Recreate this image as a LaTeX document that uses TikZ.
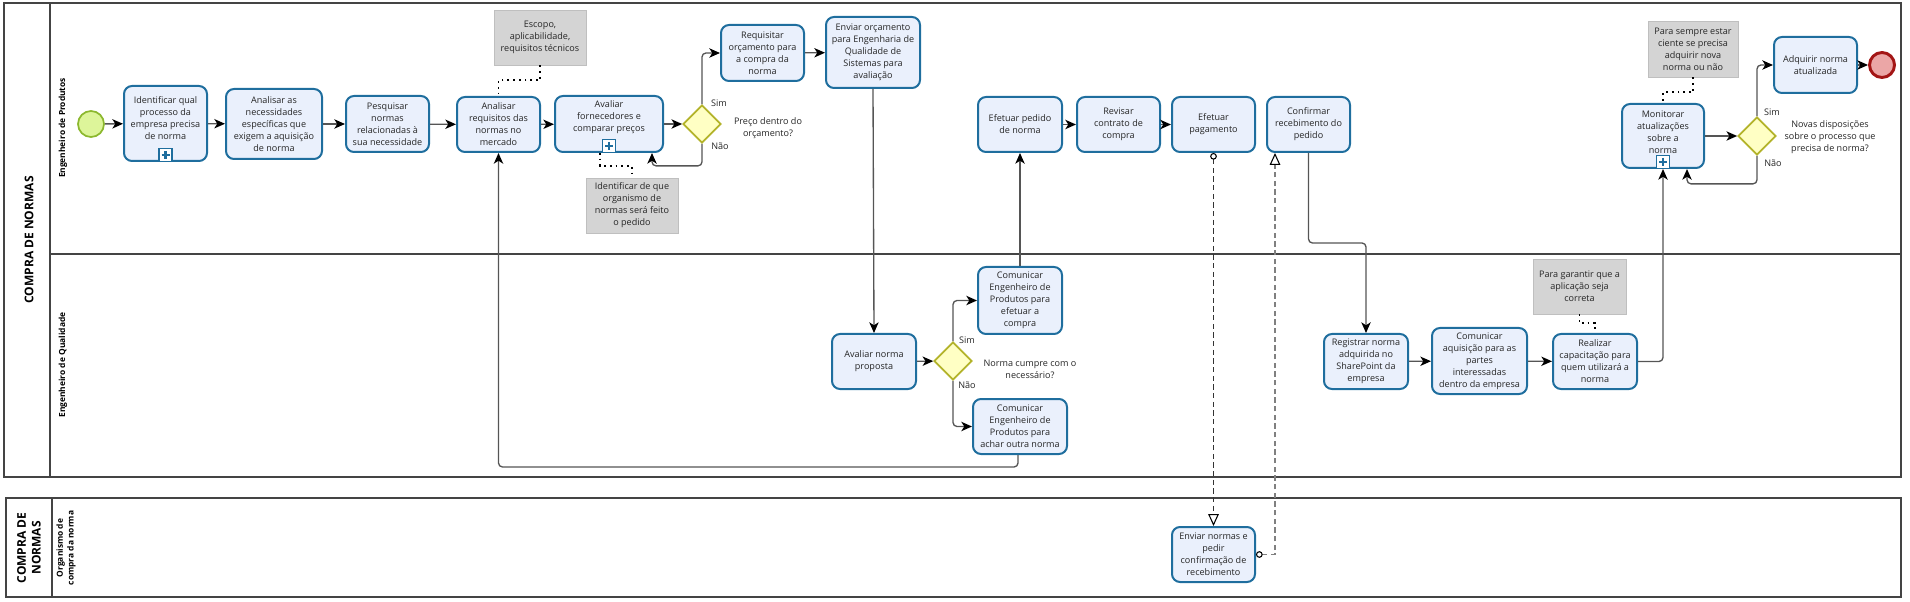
\documentclass[tikz,border=0pt]{standalone}
\usepackage{fontspec}
\setmainfont{Open Sans}
\usetikzlibrary{arrows.meta,shapes.geometric,calc}
\definecolor{tborder}{HTML}{1F6E9E}
\definecolor{tfill}{HTML}{EAF0FC}
\definecolor{gborder}{HTML}{B3B32A}
\definecolor{gfill}{HTML}{FFFFC4}
\definecolor{sborder}{HTML}{8CB82E}
\definecolor{sfill}{HTML}{DDF59A}
\definecolor{eborder}{HTML}{A31515}
\definecolor{efill}{HTML}{EBA6A6}
\definecolor{nfill}{HTML}{D4D4D4}
\definecolor{flowc}{HTML}{555555}
\definecolor{poolc}{HTML}{444444}
\newcommand\mysubmark[1]{%
  \node[submk] (#1m) at ($(#1.south)+(0,-7)$) {};
  \draw[tborder,line width=1.6pt] ($(#1m)+(-4,0)$) -- ($(#1m)+(4,0)$) ($(#1m)+(0,-4)$) -- ($(#1m)+(0,4)$);}
\begin{document}
\begin{tikzpicture}[x=0.75pt,y=-0.75pt,
  txt/.style={align=center,font=\fontsize{6.8}{9}\selectfont,text=black!85,inner sep=0pt},
  task/.style 2 args={draw=tborder,fill=tfill,line width=1.5pt,rounded corners=6pt,
     minimum width=#1*0.75pt,minimum height=#2*0.75pt,inner sep=1pt,align=center,
     font=\fontsize{6.8}{9}\selectfont,text=black!85},
  note/.style 2 args={fill=nfill,draw=black!25,line width=0.5pt,
     minimum width=#1*0.75pt,minimum height=#2*0.75pt,inner sep=1pt,align=center,
     font=\fontsize{6.8}{9}\selectfont,text=black!85},
  gate/.style={diamond,draw=gborder,fill=gfill,line width=1.3pt,minimum size=38*0.75pt,inner sep=0pt},
  startev/.style={circle,draw=sborder,fill=sfill,line width=1.3pt,minimum size=26*0.75pt,inner sep=0pt},
  endev/.style={circle,draw=eborder,fill=efill,line width=2.2pt,minimum size=25*0.75pt,inner sep=0pt},
  submk/.style={draw=tborder,fill=white,line width=1.3pt,minimum size=13*0.75pt,inner sep=0pt},
  flow/.style={draw=flowc,line width=1pt,rounded corners=3pt,-{Stealth[length=8pt,width=7pt,inset=2.2pt,color=black]}},
  msg/.style={draw=black!80,line width=0.8pt,dash pattern=on 4pt off 2.5pt,
     {Circle[open,length=5pt,width=5pt,fill=white,color=black]}-{Triangle[open,length=9pt,width=8pt,fill=white,color=black]}},
  assoc/.style={draw=black,line width=1.4pt,dash pattern=on 1.3pt off 3pt},
  pool/.style={draw=poolc,line width=1pt},
  lbl/.style={font=\fontsize{6.8}{9}\selectfont,text=black!85,inner sep=0pt,align=center},
  pooltitle/.style={rotate=90,font=\bfseries\fontsize{9}{11}\selectfont,align=center,inner sep=0pt},
  lanetitle/.style={rotate=90,font=\bfseries\fontsize{6.3}{8}\selectfont,align=center,inner sep=0pt}]
\useasboundingbox (0,0) rectangle (1910,602);
% pools and lanes
\draw[pool] (4,3) rectangle (1901,477);
\draw[pool] (50,3) -- (50,477);
\draw[pool] (50,254) -- (1901,254);
\draw[pool] (6,498) rectangle (1901,597);
\draw[pool] (52,498) -- (52,597);
\node[pooltitle] (p1) at (29,240) {COMPRA DE NORMAS};
\node[pooltitle] (p2) at (29,548) {COMPRA DE\\NORMAS};
\node[lanetitle] (l1) at (63,128) {Engenheiro de Produtos};
\node[lanetitle] (l2) at (63,365) {Engenheiro de Qualidade};
\node[lanetitle] (l3) at (66,548) {Organismo de\\compra da norma};
% lane 1
\node[startev] (start) at (91,124) {};
\node[task={83}{75}] (t1) at (165.5,123.5) {};
\node[txt] (t1x) at (165.5,118.5) {Identificar qual\\processo da\\empresa precisa\\de norma};
\node[task={96}{70}] (t2) at (274,124) {Analisar as\\necessidades\\específicas que\\exigem a aquisição\\de norma};
\node[task={83}{56}] (t3) at (387.5,124) {Pesquisar\\normas\\relacionadas à\\sua necessidade};
\node[task={83}{55}] (t4) at (498.5,124.5) {Analisar\\requisitos das\\normas no\\mercado};
\node[task={108}{56}] (t5) at (609,124) {};
\node[txt] (t5x) at (609,117) {Avaliar\\fornecedores e\\comparar preços};
\node[gate] (g1) at (702,124) {};
\node[task={83}{56}] (t6) at (762.5,53) {Requisitar\\orçamento para\\a compra da\\norma};
\node[task={94}{71}] (t7) at (873,52.5) {Enviar orçamento\\para Engenharia de\\Qualidade de\\Sistemas para\\avaliação};
\node[task={84}{55}] (t8) at (1020,124.5) {Efetuar pedido\\de norma};
\node[task={83}{55}] (t9) at (1118.5,124.5) {Revisar\\contrato de\\compra};
\node[task={83}{55}] (t10) at (1213.5,124.5) {Efetuar\\pagamento};
\node[task={83}{55}] (t11) at (1308.5,124.5) {Confirmar\\recebimento do\\pedido};
\node[task={82}{64}] (t12) at (1663,136) {};
\node[txt] (t12x) at (1663,132) {Monitorar\\atualizações\\sobre a\\norma};
\node[gate] (g3) at (1757,136) {};
\node[task={83}{56}] (t13) at (1815.5,65) {Adquirir norma\\atualizada};
\node[endev] (endev) at (1882,65) {};
\mysubmark{t1}
\mysubmark{t5}
\mysubmark{t12}
% notes
\node[note={92}{55}] (n1) at (540,37.5) {Escopo,\\aplicabilidade,\\requisitos técnicos};
\node[note={92}{55}] (n2) at (632,205.5) {Identificar de que\\organismo de\\normas será feito\\o pedido};
\node[note={90}{56}] (n3) at (1693,49) {Para sempre estar\\ciente se precisa\\adquirir nova\\norma ou não};
\node[note={93}{55}] (n4) at (1579.5,286.5) {Para garantir que a\\aplicação seja\\correta};
% lane 2
\node[task={84}{55}] (t14) at (874,361.5) {Avaliar norma\\proposta};
\node[gate] (g2) at (953,361) {};
\node[task={84}{67}] (t15) at (1020,300.5) {Comunicar\\Engenheiro de\\Produtos para\\efetuar a\\compra};
\node[task={94}{55}] (t16) at (1020,426.5) {Comunicar\\Engenheiro de\\Produtos para\\achar outra norma};
\node[task={84}{55}] (t17) at (1366,361.5) {Registrar norma\\adquirida no\\SharePoint da\\empresa};
\node[task={95}{66}] (t18) at (1479.5,361) {Comunicar\\aquisição para as\\partes\\interessadas\\dentro da empresa};
\node[task={84}{55}] (t19) at (1595,361.5) {Realizar\\capacitação para\\quem utilizará a\\norma};
% pool 2
\node[task={83}{55}] (t20) at (1213.5,554.5) {Enviar normas e\\pedir\\confirmação de\\recebimento};
% gateway labels
\node[lbl] (g1s) at (719,103) {Sim};
\node[lbl] (g1n) at (720,146) {Não};
\node[lbl] (g1q) at (768,128) {Preço dentro do\\orçamento?};
\node[lbl] (g2s) at (967,340) {Sim};
\node[lbl] (g2n) at (967,385) {Não};
\node[lbl] (g2q) at (1030,369) {Norma cumpre com o\\necessário?};
\node[lbl] (g3s) at (1772,112) {Sim};
\node[lbl] (g3n) at (1773,163) {Não};
\node[lbl] (g3q) at (1830,137) {Novas disposições\\sobre o processo que\\precisa de norma?};
% sequence flows
\draw[flow] (start) -- (t1);
\draw[flow] (t1) -- (t2);
\draw[flow] (t2) -- (t3);
\draw[flow] (t3) -- (t4);
\draw[flow] (t4) -- (t5);
\draw[flow] (t5) -- (g1);
\draw[flow] (g1.north) |- (t6.west);
\draw[flow] (g1.south) -- ++(0,22) -| ($(t5.south)+(43,0)$);
\draw[flow] (t6) -- (t7);
\draw[flow] (t7.south) -- (t14.north);
\draw[flow] (t14) -- (g2);
\draw[flow] (g2.north) |- (t15.west);
\draw[flow] (g2.south) |- (t16.west);
\draw[flow] ($(t16.south)+(-2,0)$) -- ++(0,12) -| (t4.south);
\draw[flow] (t15.north) -- (t8.south);
\draw[flow] (t8) -- (t9);
\draw[flow] (t9) -- (t10);
\draw[flow] (t11.south) -- ++(0,90) -| (t17.north);
\draw[flow] (t17) -- (t18);
\draw[flow] (t18) -- (t19);
\draw[flow] (t19.east) -| (t12.south);
\draw[flow] (t12) -- (g3);
\draw[flow] (g3.north) |- (t13.west);
\draw[flow] (g3.south) -- ++(0,28) -| ($(t12.south)+(24,0)$);
\draw[flow] (t13) -- (endev);
% message flows
\draw[msg] (t10.south) -- (t20.north);
\draw[msg,draw=black!50] (t20.east) -| ($(t11.south)+(-33.5,0)$);
% associations
\draw[assoc] (n1.south) -- ++(0,15) -| (t4.north);
\draw[assoc] ($(t5.south)+(-9,0)$) -- ++(0,13) -| (n2.north);
\draw[assoc] (n3.south) -- ++(0,15) -| (t12.north);
\draw[assoc] (n4.south) -- ++(0,9) -| (t19.north);
\end{tikzpicture}
\end{document}
